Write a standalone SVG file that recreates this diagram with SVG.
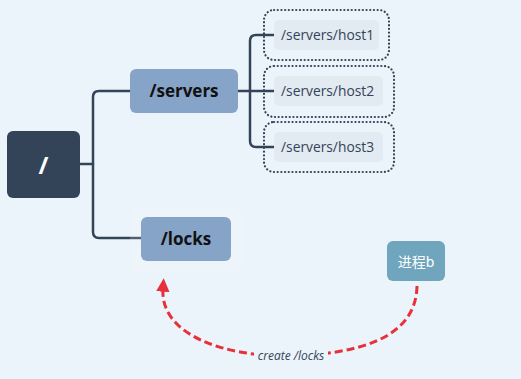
<svg xmlns="http://www.w3.org/2000/svg" width="521" height="379" viewBox="0 0 521 379">
<defs>
<style>
.conn{fill:none;stroke:#344458;stroke-width:2.5;stroke-linecap:round;stroke-linejoin:round}
.topic{fill:#86a3c8}
.btxt{font-family:"Open Sans","Noto Sans",sans-serif;font-weight:bold;font-size:17px;fill:#111;text-anchor:middle}
.htxt{font-family:"Open Sans","Noto Sans",sans-serif;font-size:13.8px;fill:#344458}
.hbox{fill:#e2eaf2}
.dot{fill:none;stroke:#344458;stroke-width:2.2;stroke-dasharray:0.1 3.6;stroke-linecap:round}
.rel{fill:none;stroke:#e8303a;stroke-width:3;stroke-dasharray:8 4}
</style>
<marker id="arr" viewBox="0 0 10 10" refX="2" refY="5" markerWidth="4.5" markerHeight="4.5" orient="auto" markerUnits="strokeWidth">
<path d="M0,0 L10,5 L0,10 z" fill="#e8303a"/>
</marker>
</defs>
<rect width="521" height="379" fill="#ebf4fa"/>
<g id="connectors">
<path class="conn" d="M80,164 H93"/>
<path class="conn" d="M130,91 H99 Q93,91 93,97 V232 Q93,238 99,238 H141"/>
<path class="conn" d="M238,91 H250"/>
<path class="conn" d="M274,35 H256 Q250,35 250,41 V141 Q250,147 256,147 H274 M250,91 H274"/>
<path class="rel" d="M417,286 C416,342 350,354 291,356 C225,357 160,335 163,289" marker-end="url(#arr)"/>
</g>
<g id="root">
<rect x="7" y="131" width="73" height="67" rx="6" fill="#344458"/>
<text x="43.5" y="174" font-family="'Open Sans','Noto Sans',sans-serif" font-weight="bold" font-size="24" fill="#fff" text-anchor="middle">/</text>
</g>
<g id="servers">
<rect class="topic" x="130" y="69" width="108" height="44" rx="6"/>
<text class="btxt" x="184" y="97">/servers</text>
</g>
<g id="locks">
<rect x="130" y="207" width="112" height="65" rx="8" fill="#ffffff" fill-opacity="0.15"/>
<rect class="topic" x="141" y="217" width="90" height="44" rx="6"/>
<text class="btxt" x="186" y="245">/locks</text>
</g>
<g id="host1">
<rect class="dot" x="264" y="10" width="125" height="50" rx="10"/>
<rect class="hbox" x="274" y="20" width="105" height="30" rx="5"/>
<text class="htxt" x="281" y="40">/servers/host1</text>
</g>
<g id="host2">
<rect class="dot" x="264" y="66" width="130" height="51" rx="10"/>
<rect class="hbox" x="274" y="76" width="109" height="30" rx="5"/>
<text class="htxt" x="281" y="96">/servers/host2</text>
</g>
<g id="host3">
<rect class="dot" x="264" y="122" width="130" height="50" rx="10"/>
<rect class="hbox" x="274" y="132" width="109" height="30" rx="5"/>
<text class="htxt" x="281" y="152">/servers/host3</text>
</g>
<g id="procb">
<rect x="387" y="241" width="58" height="40" rx="6" fill="#6fa6bd"/>
<text x="416" y="266.5" font-family="'Noto Sans','Noto Sans CJK SC',sans-serif" font-size="14" fill="#fff" text-anchor="middle">进程b</text>
</g>
<g id="label">
<rect x="254" y="349" width="74" height="14" fill="#ebf4fa"/>
<text x="291" y="360" font-family="'Open Sans','Noto Sans',sans-serif" font-style="italic" font-size="12" fill="#344458" text-anchor="middle">create /locks</text>
</g>
</svg>
